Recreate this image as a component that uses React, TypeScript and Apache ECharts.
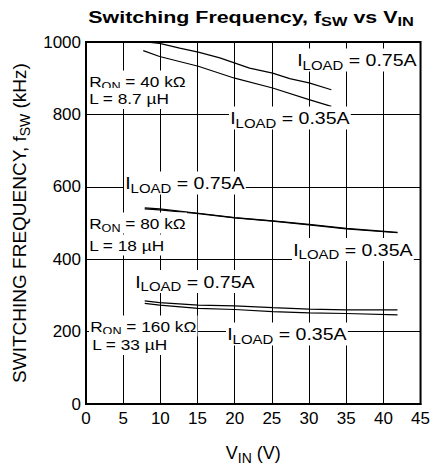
import React, { useEffect, useRef } from "react";
import * as echarts from "echarts";

const FONT = "Liberation Sans, Arial, Helvetica, sans-serif";

// X axis (V_IN) and Y axis (f_SW) ranges
const xMin = 0;
const xMax = 45;
const xStep = 5;
const yMin = 0;
const yMax = 1000;
const yStep = 200;

// R_ON = 40 kΩ, L = 8.7 µH
const vin40Hi = [8, 9.9, 12.6, 15.1, 18, 22, 25.1, 27.4, 30, 33];
const f40Hi = [1000, 996, 983, 972, 956, 928, 914, 899, 887, 868];
const vin40Lo = [7.7, 9.9, 15.1, 20, 25.1, 30, 33];
const f40Lo = [976, 960, 933, 900, 873, 841, 822];

// R_ON = 80 kΩ, L = 18 µH
const vin80 = [7.9, 9.9, 15.1, 20, 25.1, 30, 35, 41.9];
const f80Hi = [542, 539, 527, 515, 506, 496, 485, 474];
const f80Lo = [539, 536, 526, 514, 505, 495, 484, 473];

// R_ON = 160 kΩ, L = 33 µH
const vin160 = [7.9, 9.9, 15.1, 20, 25.1, 30, 35, 41.9];
const f160Hi = [285, 280, 273, 271, 266, 262, 260, 260];
const f160Lo = [278, 273, 264, 261, 255, 252, 250, 246];

const zip = (xs: number[], ys: number[]) => xs.map((x, i) => [x, ys[i]]);

type Part = [string, boolean];

function richText(parts: Part[]) {
  return parts.map(([t, sub]) => `{${sub ? "s" : "m"}|${t}}`).join("");
}

function label(
  x: number,
  y: number,
  parts: Part[],
  size: number,
  subSize: number,
  sx: number,
  bold = false
) {
  return {
    type: "text",
    x,
    y,
    scaleX: sx,
    z: 100,
    style: {
      text: richText(parts),
      align: "left",
      verticalAlign: "middle",
      backgroundColor: "#fff",
      padding: [0, 1],
      rich: {
        m: {
          fontSize: size,
          fontFamily: FONT,
          fontWeight: bold ? "bold" : "normal",
          fill: "#000",
          lineHeight: size + 6,
        },
        s: {
          fontSize: subSize,
          fontFamily: FONT,
          fontWeight: bold ? "bold" : "normal",
          fill: "#000",
          lineHeight: subSize,
          verticalAlign: "bottom",
        },
      },
    },
  };
}

const iLoad75: Part[] = [["I", false], ["LOAD", true], [" = 0.75A", false]];
const iLoad35: Part[] = [["I", false], ["LOAD", true], [" = 0.35A", false]];

export default function App() {
  const ref = useRef<HTMLDivElement>(null);

  useEffect(() => {
    if (!ref.current) return;
    const chart = echarts.init(ref.current, undefined, { renderer: "svg" });

    const lineSeries = (data: number[][]) => ({
      type: "line",
      data,
      symbol: "none",
      smooth: false,
      lineStyle: { color: "#000", width: 1.2 },
      z: 5,
    });

    const nameRich = (size: number, sub: number) => ({
      m: { fontSize: size, fontFamily: FONT, color: "#000", lineHeight: size + 6 },
      s: {
        fontSize: sub,
        fontFamily: FONT,
        color: "#000",
        lineHeight: sub,
        verticalAlign: "bottom",
      },
    });

    chart.setOption({
      animation: false,
      backgroundColor: "#fff",
      grid: {
        left: 86,
        right: 12,
        top: 42,
        bottom: 66,
        show: true,
        borderColor: "#000",
        borderWidth: 2,
        backgroundColor: "transparent",
      },
      xAxis: {
        type: "value",
        min: xMin,
        max: xMax,
        interval: xStep,
        axisLine: { show: true, lineStyle: { color: "#000", width: 2 } },
        axisTick: { show: false },
        splitLine: { show: true, lineStyle: { color: "#000", width: 1 } },
        axisLabel: {
          color: "#000",
          fontSize: 17,
          fontFamily: FONT,
          margin: 6,
          formatter: (v: number) => String(v),
        },
        name: "{m|V}{s|IN}{m| (V)}",
        nameLocation: "middle",
        nameGap: 37,
        nameTextStyle: { rich: nameRich(18, 14) },
      },
      yAxis: {
        type: "value",
        min: yMin,
        max: yMax,
        interval: yStep,
        axisLine: { show: true, lineStyle: { color: "#000", width: 2 } },
        axisTick: { show: false },
        splitLine: { show: true, lineStyle: { color: "#000", width: 1 } },
        axisLabel: {
          color: "#000",
          fontSize: 17,
          fontFamily: FONT,
          margin: 5,
          formatter: (v: number) => String(v),
        },
        name: "{m|SWITCHING FREQUENCY, f}{s|SW}{m| (kHz)}",
        nameLocation: "middle",
        nameRotate: 90,
        nameGap: 52,
        nameTextStyle: { rich: nameRich(19, 14) },
      },
      series: [
        lineSeries(zip(vin40Hi, f40Hi)),
        lineSeries(zip(vin40Lo, f40Lo)),
        lineSeries(zip(vin80, f80Hi)),
        lineSeries(zip(vin80, f80Lo)),
        lineSeries(zip(vin160, f160Hi)),
        lineSeries(zip(vin160, f160Lo)),
      ],
      graphic: [
        label(
          87,
          17,
          [
            ["Switching Frequency, f", false],
            ["SW", true],
            [" vs V", false],
            ["IN", true],
          ],
          17,
          13,
          1.26,
          true
        ),
        label(296, 60, iLoad75, 17, 13, 1.15),
        label(88, 81, [["R", false], ["ON", true], [" = 40 kΩ", false]], 15, 11, 1.15),
        label(88, 98.5, [["L = 8.7 µH", false]], 15, 11, 1.15),
        label(229, 118, iLoad35, 17, 13, 1.15),
        label(124, 183, iLoad75, 17, 13, 1.15),
        label(88, 223, [["R", false], ["ON", true], [" = 80 kΩ", false]], 15, 11, 1.15),
        label(88, 245, [["L = 18 µH", false]], 15, 11, 1.15),
        label(292, 249.5, iLoad35, 17, 13, 1.15),
        label(134, 281.5, iLoad75, 17, 13, 1.15),
        label(89, 326, [["R", false], ["ON", true], [" = 160 kΩ", false]], 15, 11, 1.15),
        label(91, 344.5, [["L = 33 µH", false]], 15, 11, 1.15),
        label(226, 334, iLoad35, 17, 13, 1.15),
      ],
    });

    return () => {
      chart.dispose();
    };
  }, []);

  return (
    <div
      ref={ref}
      style={{
        position: "fixed",
        left: 0,
        top: 0,
        width: 433,
        height: 470,
        background: "#fff",
      }}
    />
  );
}
